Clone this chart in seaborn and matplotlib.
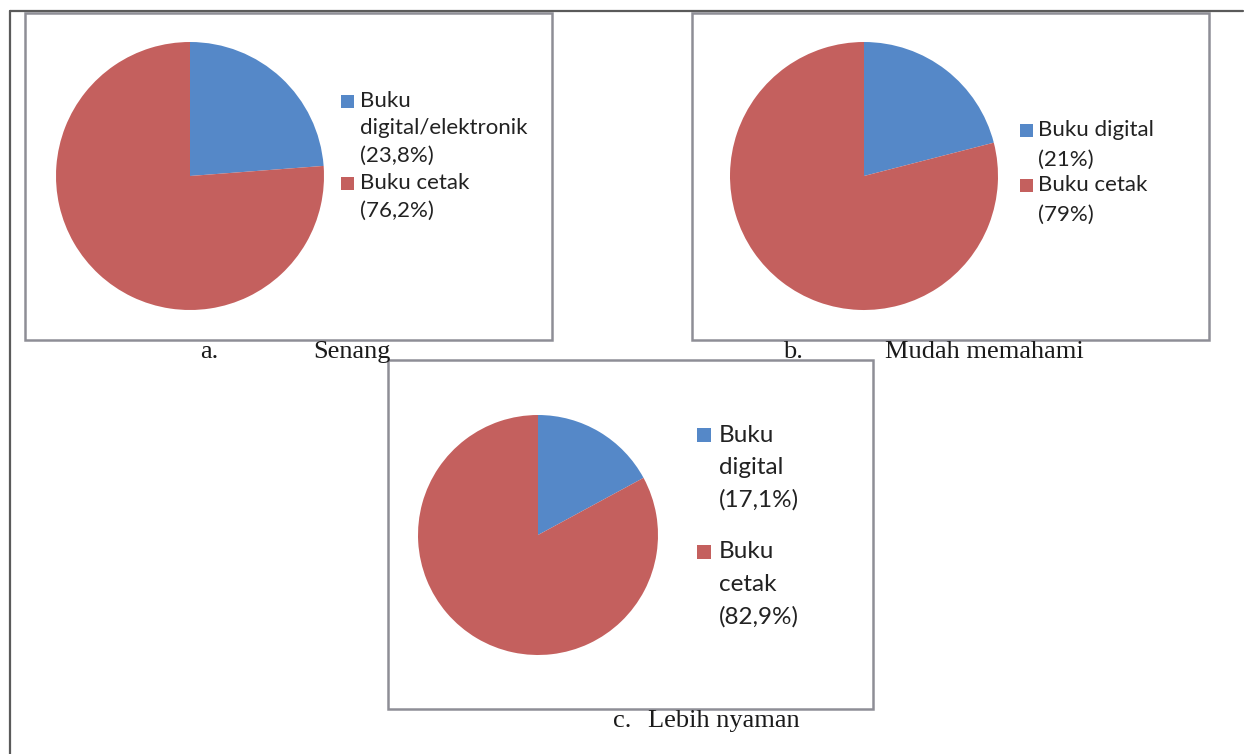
import matplotlib
matplotlib.use("Agg")
import matplotlib.pyplot as plt
import seaborn as sns
from matplotlib.patches import Rectangle

# data
slices = ["Buku digital", "Buku cetak"]
senang = [23.8, 76.2]
mudah = [21, 79]
nyaman = [17.1, 82.9]
legend_a = [["Buku", "digital/elektronik", "(23,8%)"], ["Buku cetak", "(76,2%)"]]
legend_b = [["Buku digital", "(21%)"], ["Buku cetak", "(79%)"]]
legend_c = [["Buku", "digital", "(17,1%)"], ["Buku", "cetak", "(82,9%)"]]
captions = [("a.", "Senang"), ("b.", "Mudah memahami"), ("c.", "Lebih nyaman")]

sns.set_theme(style="white")
plt.rcParams['font.family'] = ['Lato', 'DejaVu Sans']
colors = sns.color_palette(['#5588c8', '#c4605e'])

W, H = 1244, 754
fig = plt.figure(figsize=(W / 100, H / 100), dpi=100)
fig.patch.set_facecolor('white')

# overlay in pixel coordinates
bg = fig.add_axes([0, 0, 1, 1])
bg.set_xlim(0, W)
bg.set_ylim(H, 0)
bg.axis('off')

# table lines
bg.plot([9.5, 1243], [10.5, 10.5], color='#5a5a5a', lw=1.6)
bg.plot([9.5, 9.5], [10.5, H], color='#5a5a5a', lw=1.6)

box_col = '#8e8e96'
boxes = [(25, 13, 527, 327), (692, 13, 517, 327), (388, 360, 485, 349)]
for x, y, w, h in boxes:
    bg.add_patch(Rectangle((x, y), w, h, fill=False, ec=box_col, lw=1.8))


def pie_at(cx, cy, r, vals):
    ax = fig.add_axes([(cx - r) / W, 1 - (cy + r) / H, 2 * r / W, 2 * r / H])
    ax.pie(vals, colors=colors, startangle=90, counterclock=False,
           wedgeprops=dict(linewidth=0))
    ax.set_xlim(-1, 1)
    ax.set_ylim(-1, 1)
    ax.set_aspect('equal')
    ax.axis('off')


pie_at(190, 176, 134, senang)
pie_at(864, 176, 134, mudah)
pie_at(538, 535, 120, nyaman)


def legend_at(entries, sq_x, txt_x, starts, step, size, fs):
    for i, lines in enumerate(entries):
        y0 = starts[i]
        bg.add_patch(Rectangle((sq_x, y0 - size / 2), size, size, color=colors[i], lw=0))
        for j, line in enumerate(lines):
            bg.text(txt_x, y0 + j * step, line, fontsize=fs, color='#222222',
                    va='center', ha='left')


legend_at(legend_a, 341, 360, [101, 183], 27.5, 13, 16)
legend_at(legend_b, 1020, 1038, [130, 185], 29.5, 13, 16)
legend_at(legend_c, 697, 719, [435, 552], 32.5, 14, 17.5)

# captions
serif = ['Liberation Serif', 'DejaVu Serif']
cap_pos = [(200, 313, 352), (783, 885, 352), (613, 648, 721)]
for (lab, txt), (lx, tx, ty) in zip(captions, cap_pos):
    bg.text(lx, ty, lab, fontsize=19, family=serif, color='#1a1a1a', va='center', ha='left')
    bg.text(tx, ty, txt, fontsize=19, family=serif, color='#1a1a1a', va='center', ha='left')

fig.savefig('out.png', dpi=100, facecolor='white')
